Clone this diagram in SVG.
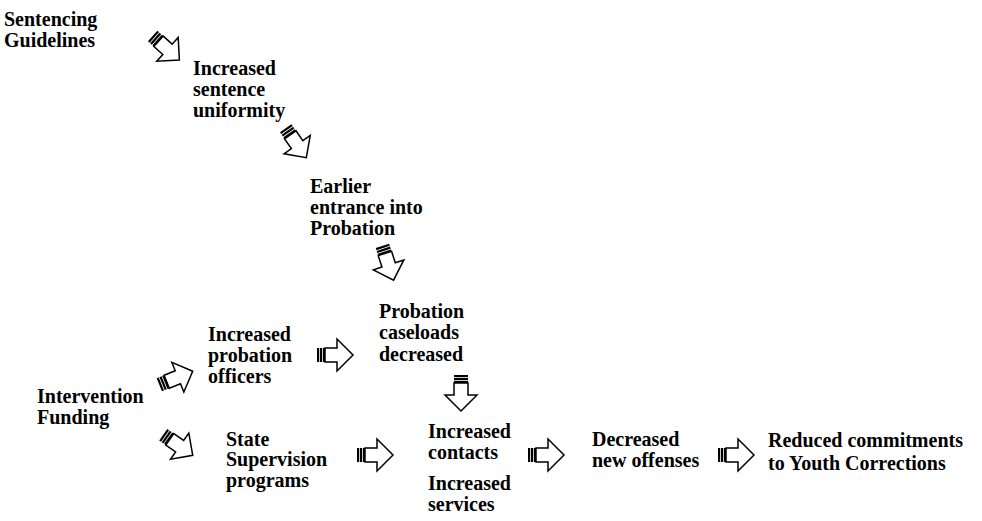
<svg xmlns="http://www.w3.org/2000/svg" width="982" height="521" viewBox="0 0 982 521">
<style>
text{font-family:"Liberation Serif","Times New Roman",serif;font-weight:bold;font-size:20px;fill:#000}
.body{fill:#fff;stroke:#000;stroke-width:1.5;stroke-linejoin:miter}
.stripe{fill:#000}
</style>
<defs>
<g id="arr">
<rect class="stripe" x="-18" y="-7" width="2.2" height="14"/>
<rect class="stripe" x="-15" y="-7" width="2.2" height="14"/>
<rect class="stripe" x="-12" y="-7" width="2" height="14"/>
<path class="body" d="M-10,-7 L2,-7 L2,-16 L18,0 L2,16 L2,7 L-10,7 Z"/>
</g>
</defs>
<rect width="982" height="521" fill="#fff"/>
<g id="connectors">
<use href="#arr" transform="translate(166,48) rotate(42)"/>
<use href="#arr" transform="translate(296,143) rotate(55)"/>
<use href="#arr" transform="translate(388,263) rotate(72)"/>
<use href="#arr" transform="translate(335,355)"/>
<use href="#arr" transform="translate(176,378) rotate(-22)"/>
<use href="#arr" transform="translate(178,445) rotate(35)"/>
<use href="#arr" transform="translate(461,393) rotate(90)"/>
<use href="#arr" transform="translate(375,455)"/>
<use href="#arr" transform="translate(546,455)"/>
<use href="#arr" transform="translate(736,455)"/>
</g>
<g id="n-sentencing"><text x="4" y="26">Sentencing</text><text x="4" y="47">Guidelines</text></g>
<g id="n-uniformity"><text x="193" y="75">Increased</text><text x="193" y="96">sentence</text><text x="193" y="117">uniformity</text></g>
<g id="n-earlier"><text x="310" y="193">Earlier</text><text x="310" y="214">entrance into</text><text x="310" y="235">Probation</text></g>
<g id="n-caseloads"><text x="379" y="318">Probation</text><text x="379" y="339">caseloads</text><text x="379" y="361">decreased</text></g>
<g id="n-officers"><text x="208" y="341">Increased</text><text x="208" y="362">probation</text><text x="208" y="383">officers</text></g>
<g id="n-funding"><text x="37" y="403">Intervention</text><text x="37" y="424">Funding</text></g>
<g id="n-state"><text x="226" y="446">State</text><text x="226" y="466">Supervision</text><text x="226" y="487">programs</text></g>
<g id="n-contacts"><text x="428" y="438">Increased</text><text x="428" y="459">contacts</text></g>
<g id="n-services"><text x="428" y="490">Increased</text><text x="428" y="511">services</text></g>
<g id="n-offenses"><text x="592" y="446">Decreased</text><text x="592" y="467">new offenses</text></g>
<g id="n-reduced"><text x="768" y="447">Reduced commitments</text><text x="768" y="470">to Youth Corrections</text></g>
</svg>
